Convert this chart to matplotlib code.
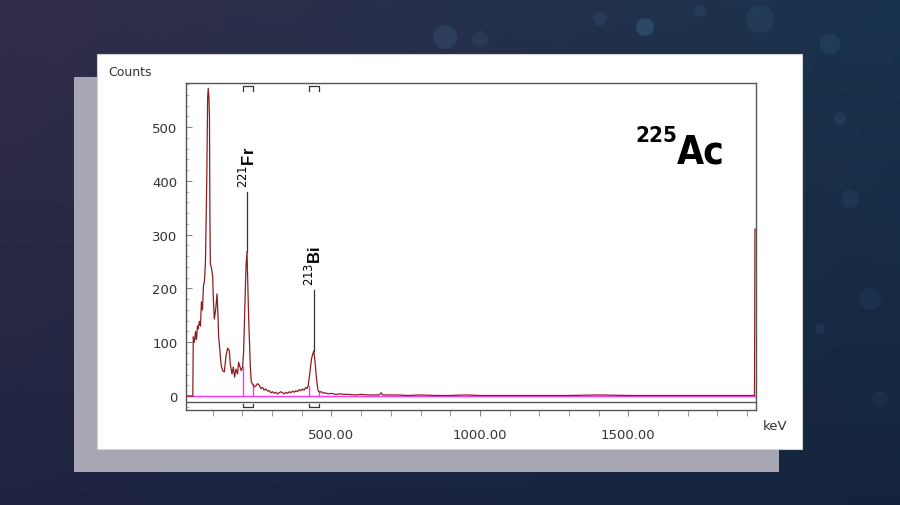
import numpy as np
import matplotlib
matplotlib.use("Agg")
import matplotlib.pyplot as plt
from matplotlib import font_manager
from matplotlib.patches import Rectangle, Circle
from matplotlib.ticker import MultipleLocator, FixedLocator

# spectrum (keV, counts)
energy = [10, 33, 34.5, 38.5, 42.0, 45.3, 48.6, 50.3, 55.3, 58.7, 62.0, 65.4, 68.8, 72.1,
          75.5, 79.9, 82.9, 84.9, 87.3, 89.0, 90.6, 92.0, 95.3, 99.7, 102.1, 105.4, 109.8,
          114.5, 117.8, 119.8, 124.6, 128.0, 133.3, 139.1, 144.8, 150.2, 155.9, 159.3,
          164.9, 169.4, 173.7, 178.5, 183.8, 187.2, 191.9, 196.3, 200.7, 204.0, 207.4,
          212.1, 215.5, 220.8, 226.6, 229.9, 234.3, 240.0, 245.7, 251.0, 256.9, 262.0,
          267.9, 273.0, 279.4, 285.0, 290.5, 296.0, 301.6, 307.0, 313.0, 318.0, 324.1,
          330.0, 335.3, 341.0, 346.6, 352.0, 357.7, 363.0, 368.8, 374.0, 380.3, 386.0,
          391.4, 397.0, 402.5, 408.0, 413.8, 418.0, 421.6, 427.4, 432.7, 436.0, 440.5,
          444.8, 449.5, 454.9, 460.0, 466.4, 472.0, 477.5,
          490, 500, 515, 530, 545, 560, 580, 600, 620, 640, 660, 668, 672, 690, 720, 760,
          800, 850, 900, 950, 1000, 1100, 1200, 1300, 1400, 1500, 1600, 1700, 1800, 1900,
          1925, 1926.5, 1930]
counts = [0, 0, 110, 100, 120, 105, 130, 125, 139, 130, 175, 160, 205, 213,
          249, 400, 554, 572, 555, 520, 330, 245, 240, 224, 180, 143, 160,
          190, 149, 112, 82, 59, 47, 45, 75, 89, 84, 59,
          41, 54, 35, 50, 41, 63, 54, 47, 54, 82, 149,
          242, 268, 149, 56, 26, 22, 17, 19, 23, 20, 14,
          16, 11, 13, 9, 10, 6, 8, 5, 7, 4, 6,
          8, 6, 4, 7, 5, 8, 6, 9, 7, 10, 8,
          12, 10, 13, 11, 16, 14, 19, 44, 69, 76, 84,
          63, 32, 10, 7, 8, 5, 6,
          4, 5, 3, 4, 3, 3, 2, 3, 2, 2, 2, 6, 2, 2, 2, 1,
          2, 1, 1, 2, 1, 1, 1, 1, 2, 1, 1, 1, 1, 1,
          1, 310, 310]

# regions of interest (keV) and the spectrum height at their edges
roi_lo = [202, 424]
roi_hi = [235, 457]
roi_lo_h = [54, 19]
roi_hi_h = [22, 9]

# peak markers
peak_e = [217, 441]
peak_c = [268, 84]
peak_top = [380, 198]
peak_lbl = [r"$^{221}$Fr", r"$^{213}$Bi"]

# pick a narrow bold face for the big isotope label if one is installed
narrow = None
for f in font_manager.fontManager.ttflist:
    n = (f.name + " " + f.fname).lower()
    if ("condensed" in n or "narrow" in n) and ("bold" in n or f.weight in ("bold", 700)):
        if "semi" in n or "extra" in n or "italic" in n or "oblique" in n:
            continue
        narrow = f.fname
        break
if narrow:
    big_font = font_manager.FontProperties(fname=narrow)
else:
    big_font = font_manager.FontProperties(family="DejaVu Sans", weight="bold", stretch="condensed")

W, H = 900, 506
fig = plt.figure(figsize=(9, 5.06), dpi=100)

# slide background
bg = fig.add_axes([0, 0, 1, 1], zorder=-5)
yy, xx = np.mgrid[0:1:60j, 0:1:100j]
c_tl = np.array([0.20, 0.18, 0.29])
c_tr = np.array([0.10, 0.20, 0.30])
c_bl = np.array([0.12, 0.14, 0.25])
c_br = np.array([0.08, 0.14, 0.24])
img = ((1 - xx)[..., None] * (1 - yy)[..., None] * c_tl + xx[..., None] * (1 - yy)[..., None] * c_tr
       + (1 - xx)[..., None] * yy[..., None] * c_bl + xx[..., None] * yy[..., None] * c_br)
bg.imshow(img, extent=[0, W, H, 0], aspect="auto", interpolation="bilinear")
for (cx, cy, r, a) in [(445, 38, 12, 0.2), (480, 40, 8, 0.15), (645, 28, 9, 0.3), (700, 12, 6, 0.15),
                       (760, 20, 14, 0.12), (830, 45, 10, 0.15), (850, 200, 9, 0.12), (870, 300, 11, 0.1),
                       (840, 120, 6, 0.15), (880, 400, 8, 0.1), (820, 330, 5, 0.15), (600, 20, 7, 0.15)]:
    bg.add_patch(Circle((cx, cy), r, color="#4a7fa8", alpha=a, lw=0))
bg.set_xlim(0, W)
bg.set_ylim(H, 0)
bg.axis("off")

# shadow and white panel
fig.add_artist(Rectangle((74 / W, 1 - 473 / H), 705 / W, 395 / H, transform=fig.transFigure,
                         facecolor="#a6a6b5", edgecolor="none", zorder=1))
fig.add_artist(Rectangle((97 / W, 1 - 450 / H), 705 / W, 395 / H, transform=fig.transFigure,
                         facecolor="white", edgecolor="#d0d0d0", lw=0.8, zorder=2))

ax = fig.add_axes([186 / W, 1 - 411 / H, 570 / W, 327 / H], zorder=5)
ax.set_facecolor("white")
ax.set_xlim(10, 1930)

ax.axhline(0, color="#ff33ff", lw=1.0, zorder=2)
ax.axhline(-11.2, color="#555555", lw=1.0, zorder=2)
ax.plot(energy, counts, color="#8b1f1f", lw=0.9, zorder=3)

for lo, hi, hl, hh in zip(roi_lo, roi_hi, roi_lo_h, roi_hi_h):
    ax.plot([lo, lo], [0, hl], color="#ff33ff", lw=1.0, zorder=2)
    ax.plot([hi, hi], [0, hh], color="#ff33ff", lw=1.0, zorder=2)
    ax.plot([lo, lo, hi, hi], [567, 577, 577, 567], color="#333333", lw=0.9)
    ax.plot([lo, lo, hi, hi], [-15, -21, -21, -15], color="#333333", lw=0.9)

for e, c, t, lbl in zip(peak_e, peak_c, peak_top, peak_lbl):
    ax.plot([e, e], [c, t], color="#333333", lw=0.9, zorder=4)
    ax.text(e, t + 8, lbl, rotation=90, ha="center", va="bottom", fontsize=12,
            fontweight="bold", family="Liberation Sans")

for s in ax.spines.values():
    s.set_color("#555555")
    s.set_linewidth(1.0)

ax.xaxis.set_major_locator(FixedLocator([500, 1000, 1500]))
ax.xaxis.set_minor_locator(MultipleLocator(100))
ax.set_xticklabels(["500.00", "1000.00", "1500.00"])
ax.yaxis.set_major_locator(MultipleLocator(100))
ax.yaxis.set_minor_locator(MultipleLocator(20))
ax.set_ylim(-26, 582)
ax.tick_params(axis="x", which="both", direction="out", length=4, color="#888888",
               labelsize=9.5, labelcolor="#333333", pad=9)
ax.tick_params(axis="y", which="major", direction="in", length=4, color="#888888",
               labelsize=9.5, labelcolor="#333333", pad=6)
ax.tick_params(axis="y", which="minor", direction="in", length=2, color="#aaaaaa")

fig.text(108 / W, 1 - 72 / H, "Counts", fontsize=9, color="#333333", va="center", ha="left")
fig.text(775 / W, 1 - 427 / H, "keV", fontsize=9.5, color="#333333", va="center", ha="center")

ac = big_font.copy()
ac.set_size(28)
sup = big_font.copy()
sup.set_size(16)
fig.text(677 / W, 1 - 164 / H, "Ac", fontproperties=ac, color="black",
         ha="left", va="baseline", zorder=6)
fig.text(677 / W, 1 - 142 / H, "225", fontproperties=sup, color="black",
         ha="right", va="baseline", zorder=6)

fig.savefig("out.png", dpi=100)
